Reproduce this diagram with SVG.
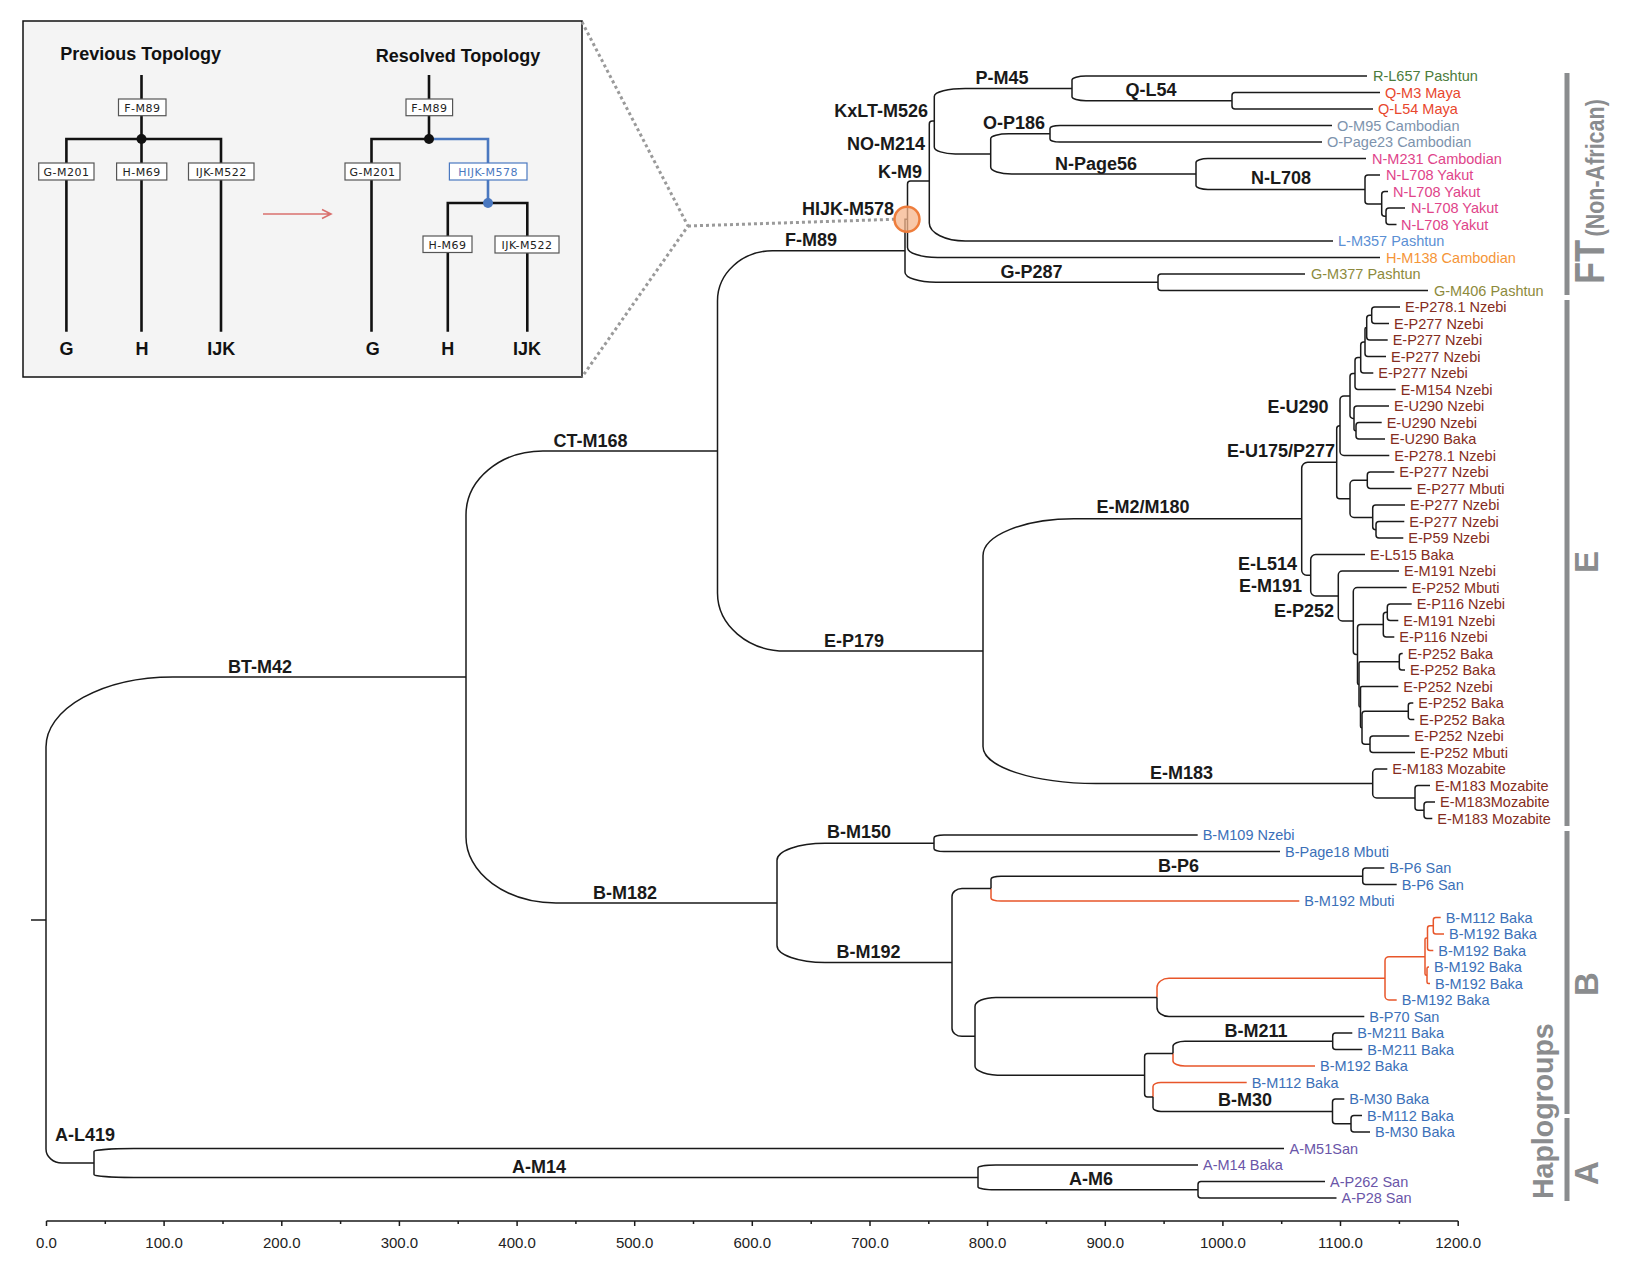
<svg xmlns="http://www.w3.org/2000/svg" width="1635" height="1275" viewBox="0 0 1635 1275">
<style>
.t{fill:none;stroke:#1a1a1a;stroke-width:1.5}
.o{fill:none;stroke:#e8562a;stroke-width:1.5}
.il{fill:none;stroke:#111;stroke-width:2.6}
.ib{fill:none;stroke:#4a78c0;stroke-width:2.6}
.bx{fill:#fff;stroke:#555;stroke-width:1.2}
.bt{font-family:"DejaVu Sans",sans-serif;font-size:11px;letter-spacing:0.5px;text-anchor:middle;fill:#222}
.it{font-family:"Liberation Sans",Arial,sans-serif;font-weight:bold;fill:#111}
.lbl{font-family:"Liberation Sans",Arial,sans-serif;font-weight:bold;font-size:18px;fill:#1a1a1a}
.lf{font-family:"Liberation Sans",Arial,sans-serif;font-size:14.5px}
.ax{font-family:"Liberation Sans",Arial,sans-serif;font-size:15px;fill:#222;text-anchor:middle}
.gr{font-family:"Liberation Sans",Arial,sans-serif;font-weight:bold;fill:#8a8c8e}
.cR{fill:#4b7b3b}.cQ{fill:#e8472d}.cO{fill:#7d93ad}.cN{fill:#e0448a}.cL{fill:#5b8fd4}.cH{fill:#f59538}.cG{fill:#8d8a3c}
.cE{fill:#842c20}.cB{fill:#3b70b8}.cA{fill:#6a55a8}
</style>
<rect width="1635" height="1275" fill="#fff"/>

<g id="inset">
<rect x="23" y="21" width="559" height="356" fill="#f4f4f4" stroke="#111" stroke-width="1.5"/>
<text class="it" x="140.6" y="60" font-size="18" text-anchor="middle">Previous Topology</text>
<text class="it" x="458" y="62" font-size="18" text-anchor="middle">Resolved Topology</text>
<path class="il" d="M141.5,75 V139 M66.4,331.7 V139 H221 V331.7 M141.5,139 V331.7"/>
<circle cx="141.5" cy="139" r="5" fill="#111"/>
<rect class="bx" x="118.5" y="99" width="47.5" height="16.7"/><text class="bt" x="142.3" y="111.5">F-M89</text>
<rect class="bx" x="38.7" y="163" width="55.3" height="17"/><text class="bt" x="66.4" y="175.5">G-M201</text>
<rect class="bx" x="116.6" y="163" width="50.2" height="17"/><text class="bt" x="141.7" y="175.5">H-M69</text>
<rect class="bx" x="188.5" y="163" width="65.5" height="17"/><text class="bt" x="221.3" y="175.5">IJK-M522</text>
<text class="it" x="66.4" y="355" font-size="18" text-anchor="middle">G</text>
<text class="it" x="142" y="355" font-size="18" text-anchor="middle">H</text>
<text class="it" x="221.3" y="355" font-size="18" text-anchor="middle">IJK</text>
<path d="M263,214 H330 M322,209.5 L331,214 L322,218.5" fill="none" stroke="#d9706e" stroke-width="1.6"/>
<path class="il" d="M429,75 V139 M371.5,331.7 V139 H429 M447.8,331.7 V203 H527.3 V331.7"/>
<path class="ib" d="M429,139 H488 V203"/>
<circle cx="429" cy="139" r="5" fill="#111"/>
<circle cx="488" cy="203" r="5" fill="#4a78c0"/>
<rect class="bx" x="406" y="99" width="46.6" height="16.7"/><text class="bt" x="429.3" y="111.5">F-M89</text>
<rect class="bx" x="345" y="163" width="55" height="17"/><text class="bt" x="372.5" y="175.5">G-M201</text>
<rect x="449.4" y="163" width="77.6" height="17" fill="#fff" stroke="#4a78c0" stroke-width="1.2"/><text class="bt" x="488.2" y="175.5" style="fill:#4a78c0">HIJK-M578</text>
<rect class="bx" x="423" y="236" width="49" height="16.5"/><text class="bt" x="447.5" y="248.5">H-M69</text>
<rect class="bx" x="495" y="236" width="64" height="17"/><text class="bt" x="527" y="248.8">IJK-M522</text>
<text class="it" x="372.7" y="355" font-size="18" text-anchor="middle">G</text>
<text class="it" x="447.8" y="355" font-size="18" text-anchor="middle">H</text>
<text class="it" x="526.9" y="355" font-size="18" text-anchor="middle">IJK</text>
</g>

<g id="zoom-guides" fill="none" stroke="#9a9a9a" stroke-width="3" stroke-dasharray="3 3">
<path d="M582,22 L688,226 L582,377"/>
<path d="M688,226 L894,219.3"/>
</g>

<g id="connectors">
<!-- FT -->
<path class="t" d="M1380,92.5 H1235 A3 3 0 0 0 1232,95.5 V106 A3 3 0 0 0 1235,109 H1373"/>
<path class="t" d="M1367,76 H1086 A14 4 0 0 0 1072,80 V96.75 A14 4 0 0 0 1086,100.75 H1232"/>
<path class="t" d="M1332,125.5 H1060 A10 3 0 0 0 1050,128.5 V139 A10 3 0 0 0 1060,142 H1322"/>
<path class="t" d="M1405,208 H1389 A3 3 0 0 0 1386,211 V221.5 A3 3 0 0 0 1389,224.5 H1396.5"/>
<path class="t" d="M1388,191.5 H1384.7 A3 3 0 0 0 1381.7,194.5 V213.25 A3 3 0 0 0 1384.7,216.25 H1386"/>
<path class="t" d="M1380,175 H1368 A3 3 0 0 0 1365,178 V200.9 A3 3 0 0 0 1368,203.9 H1381.7"/>
<path class="t" d="M1366,158.5 H1208 A12 4 0 0 0 1196,162.5 V185.5 A12 4 0 0 0 1208,189.5 H1365"/>
<path class="t" d="M1050,133.75 H1008.7 A18 5 0 0 0 990.7,138.75 V167 A21 7 0 0 0 1011.7,174 H1196"/>
<path class="t" d="M1072,88.4 H965.3 A31 8 0 0 0 934.3,96.4 V146.9 A21 7 0 0 0 955.3,153.9 H990.7"/>
<path class="t" d="M934.3,121.1 H932.3 A3 3 0 0 0 929.3,124.1 V223 A36 18 0 0 0 965.3,241 H1333"/>
<path class="t" d="M929.3,181.05 H910.5 A3 3 0 0 0 907.5,184.05 V247.5 A30 10 0 0 0 937.5,257.5 H1380" stroke-width="2"/>
<path class="t" d="M1305,274 H1161 A3 3 0 0 0 1158,277 V287.5 A3 3 0 0 0 1161,290.5 H1428"/>
<path class="t" d="M907.5,219.3 H905 V272.25 A31 10 0 0 0 936,282.25 H1158" stroke-width="2"/>
<path class="t" d="M905,250.8 H772.5 A55 50 0 0 0 717.5,300.8 V593.1 A68 58 0 0 0 785.5,651.1 H983"/>
<!-- E -->
<path class="t" d="M1400,307 H1374.7 A3 3 0 0 0 1371.7,310 V320.5 A3 3 0 0 0 1374.7,323.5 H1389"/>
<path class="t" d="M1371.7,315.25 H1369.7 A3 3 0 0 0 1366.7,318.25 V337 A3 3 0 0 0 1369.7,340 H1387.7"/>
<path class="t" d="M1366.7,327.6 H1366.5 A1.5 1.5 0 0 0 1365,329.1 V353.5 A3 3 0 0 0 1368,356.5 H1386"/>
<path class="t" d="M1365,342.05 H1363.7 A3 3 0 0 0 1360.7,345.05 V370 A3 3 0 0 0 1363.7,373 H1373.3"/>
<path class="t" d="M1360.7,357.5 H1358 A3 3 0 0 0 1355,360.5 V386.5 A3 3 0 0 0 1358,389.5 H1395.7"/>
<path class="t" d="M1381.7,422.5 H1359 A3 3 0 0 0 1356,425.5 V436 A3 3 0 0 0 1359,439 H1385"/>
<path class="t" d="M1389,406 H1357 A3 3 0 0 0 1354,409 V429.25 A1.5 1.5 0 0 0 1355.5,430.75 H1356"/>
<path class="t" d="M1355,373.5 H1353 A3 3 0 0 0 1350,376.5 V415.4 A3 3 0 0 0 1353,418.4 H1354"/>
<path class="t" d="M1350,395.95 H1344 A4 4 0 0 0 1340,399.95 V451.5 A4 4 0 0 0 1344,455.5 H1389.3"/>
<path class="t" d="M1404.3,521.5 H1379 A3 3 0 0 0 1376,524.5 V535 A3 3 0 0 0 1379,538 H1403.3"/>
<path class="t" d="M1405,505 H1375.7 A3 3 0 0 0 1372.7,508 V526.75 A3 3 0 0 0 1375.7,529.75 H1376"/>
<path class="t" d="M1394.3,472 H1370.3 A3 3 0 0 0 1367.3,475 V485.5 A3 3 0 0 0 1370.3,488.5 H1411.7"/>
<path class="t" d="M1367.3,480.25 H1354 A4 4 0 0 0 1350,484.25 V513.4 A4 4 0 0 0 1354,517.4 H1372.7"/>
<path class="t" d="M1340,425.7 H1339.7 A3 3 0 0 0 1336.7,428.7 V495.8 A3 3 0 0 0 1339.7,498.8 H1350"/>
<path class="t" d="M1336.7,462.25 H1307.7 A6 6 0 0 0 1301.7,468.25 V570.25 A5 5 0 0 0 1306.7,575.25 H1310.7"/>
<path class="t" d="M1411.7,604 H1390.3 A3 3 0 0 0 1387.3,607 V617.5 A3 3 0 0 0 1390.3,620.5 H1398.3"/>
<path class="t" d="M1387.3,612.25 H1386.3 A3 3 0 0 0 1383.3,615.25 V634 A3 3 0 0 0 1386.3,637 H1394.3"/>
<path class="t" d="M1402.7,653.5 H1401.8 A2.5 2.5 0 0 0 1399.3,656 V667.5 A2.5 2.5 0 0 0 1401.8,670 H1405"/>
<path class="t" d="M1413.3,703 H1410.8 A2.5 2.5 0 0 0 1408.3,705.5 V717 A2.5 2.5 0 0 0 1410.8,719.5 H1414.3"/>
<path class="t" d="M1409.3,736 H1373 A3 3 0 0 0 1370,739 V749.5 A3 3 0 0 0 1373,752.5 H1415"/>
<path class="t" d="M1408.3,711.25 H1365 A3 3 0 0 0 1362,714.25 V741.25 A3 3 0 0 0 1365,744.25 H1370"/>
<path class="t" d="M1398.3,686.5 H1362 A1.5 1.5 0 0 0 1360.5,688 V726.25 A1.5 1.5 0 0 0 1362,727.75"/>
<path class="t" d="M1399.3,661.75 H1360.5 A1.5 1.5 0 0 0 1359,663.25 V705.6 A1.5 1.5 0 0 0 1360.5,707.1"/>
<path class="t" d="M1383.3,624.6 H1360.5 A3 3 0 0 0 1357.5,627.6 V682.9 A1.5 1.5 0 0 0 1359,684.4"/>
<path class="t" d="M1406.7,587.5 H1357.3 A4 4 0 0 0 1353.3,591.5 V651.5 A3 3 0 0 0 1356.3,654.5 H1357.5"/>
<path class="t" d="M1399,571 H1342.3 A4 4 0 0 0 1338.3,575 V617 A4 4 0 0 0 1342.3,621 H1353.3"/>
<path class="t" d="M1365,554.5 H1315.7 A5 5 0 0 0 1310.7,559.5 V591 A5 5 0 0 0 1315.7,596 H1338.3"/>
<path class="t" d="M1435,802 H1427 A3 3 0 0 0 1424,805 V815.5 A3 3 0 0 0 1427,818.5 H1432.3"/>
<path class="t" d="M1430,785.5 H1418 A3 3 0 0 0 1415,788.5 V807.25 A3 3 0 0 0 1418,810.25 H1424"/>
<path class="t" d="M1387.3,769 H1376.7 A4 4 0 0 0 1372.7,773 V793.9 A4 4 0 0 0 1376.7,797.9 H1415"/>
<path class="t" d="M1301.7,518.75 H1074 A91 37 0 0 0 983,555.75 V746.45 A113 37 0 0 0 1096,783.45 H1372.7"/>
<!-- B -->
<path class="t" d="M1197.7,835 H944 A10 3 0 0 0 934,838 V848.5 A10 3 0 0 0 944,851.5 H1280"/>
<path class="t" d="M1384.3,868 H1365.7 A3 3 0 0 0 1362.7,871 V881.5 A3 3 0 0 0 1365.7,884.5 H1396.7"/>
<path class="t" d="M1362.7,876.25 H1001 A10 3 0 0 0 991,879.25 V888.6"/>
<path class="o" d="M991,888.6 V898 A10 3 0 0 0 1001,901 H1299.3"/>
<path class="o" d="M1440.7,917.5 H1435.8 A2.5 2.5 0 0 0 1433.3,920 V931.5 A2.5 2.5 0 0 0 1435.8,934 H1444"/>
<path class="o" d="M1433.3,925.75 H1430 A2.5 2.5 0 0 0 1427.5,928.25 V948 A2.5 2.5 0 0 0 1430,950.5 H1433.3"/>
<path class="o" d="M1429,967 H1428.5 A1.5 1.5 0 0 0 1427,968.5 V982 A1.5 1.5 0 0 0 1428.5,983.5 H1430"/>
<path class="o" d="M1427.5,938.1 H1426.5 A1.5 1.5 0 0 0 1425,939.6 V973.75 A1.5 1.5 0 0 0 1426.5,975.25 H1427"/>
<path class="o" d="M1425,956.7 H1389 A4 4 0 0 0 1385,960.7 V996 A4 4 0 0 0 1389,1000 H1396.7"/>
<path class="o" d="M1385,978.35 H1169 A12 9 0 0 0 1157,987.35 V997.4"/>
<path class="t" d="M1157,997.4 V1007.5 A12 9 0 0 0 1169,1016.5 H1364.3"/>
<path class="t" d="M1352.3,1033 H1335.7 A3 3 0 0 0 1332.7,1036 V1046.5 A3 3 0 0 0 1335.7,1049.5 H1362.3"/>
<path class="t" d="M1332.7,1041.25 H1185 A12 5 0 0 0 1173,1046.25 V1053.6"/>
<path class="o" d="M1173,1053.6 V1061 A12 5 0 0 0 1185,1066 H1315"/>
<path class="t" d="M1362,1115.5 H1354 A3 3 0 0 0 1351,1118.5 V1129 A3 3 0 0 0 1354,1132 H1370"/>
<path class="t" d="M1344.3,1099 H1335.5 A3 3 0 0 0 1332.5,1102 V1120.75 A3 3 0 0 0 1335.5,1123.75 H1351"/>
<path class="o" d="M1246.7,1082.5 H1161 A8 4 0 0 0 1153,1086.5 V1096.95"/>
<path class="t" d="M1153,1096.95 V1107.4 A8 4 0 0 0 1161,1111.4 H1332.5"/>
<path class="t" d="M1173,1053.6 H1147.6 A3 3 0 0 0 1144.6,1056.6 V1093.95 A3 3 0 0 0 1147.6,1096.95 H1153"/>
<path class="t" d="M1157,997.4 H996 A21 9 0 0 0 975,1006.4 V1066.3 A28 9 0 0 0 1003,1075.3 H1144.6"/>
<path class="t" d="M991,888.6 H962 A10 8 0 0 0 952,896.6 V1028.35 A10 8 0 0 0 962,1036.35 H975"/>
<path class="t" d="M934,843.25 H825 A48 17 0 0 0 777,860.25 V945.5 A48 17 0 0 0 825,962.5 H952"/>
<path class="t" d="M717.5,450.95 H543 A77 64 0 0 0 466,514.95 V836.9 A90 66 0 0 0 556,902.9 H777"/>
<!-- A -->
<path class="t" d="M1325,1181.5 H1201 A3 3 0 0 0 1198,1184.5 V1195 A3 3 0 0 0 1201,1198 H1336.5"/>
<path class="t" d="M1198,1165 H996 A18 3 0 0 0 978,1168 V1186.75 A18 3 0 0 0 996,1189.75 H1198"/>
<path class="t" d="M1284,1148.5 H134 A40 3 0 0 0 94,1151.5 V1174.4 A40 3 0 0 0 134,1177.4 H978"/>
<path class="t" d="M466,676.9 H173 A127 70 0 0 0 46,746.9 V1149 A16 14 0 0 0 62,1163 H94"/>
<path class="t" d="M31,920 H46"/>
</g>

<g id="hijk-marker">
<circle cx="907" cy="219.3" r="12.5" fill="#f6b58c" fill-opacity="0.75" stroke="#ee7d3c" stroke-width="2.5"/>
</g>

<g id="node-labels" class="lbl">
<text x="1002" y="83.5" text-anchor="middle">P-M45</text>
<text x="1151" y="95.5" text-anchor="middle">Q-L54</text>
<text x="928" y="117" text-anchor="end">KxLT-M526</text>
<text x="1014" y="128.5" text-anchor="middle">O-P186</text>
<text x="925" y="150" text-anchor="end">NO-M214</text>
<text x="1096" y="170" text-anchor="middle">N-Page56</text>
<text x="922" y="177.5" text-anchor="end">K-M9</text>
<text x="1281" y="184" text-anchor="middle">N-L708</text>
<text x="894" y="215" text-anchor="end">HIJK-M578</text>
<text x="811" y="246" text-anchor="middle">F-M89</text>
<text x="1031.5" y="277.5" text-anchor="middle">G-P287</text>
<text x="1328.5" y="413" text-anchor="end">E-U290</text>
<text x="1335" y="457" text-anchor="end">E-U175/P277</text>
<text x="1143" y="513" text-anchor="middle">E-M2/M180</text>
<text x="1297" y="569.5" text-anchor="end">E-L514</text>
<text x="1302" y="591.5" text-anchor="end">E-M191</text>
<text x="1334" y="616.5" text-anchor="end">E-P252</text>
<text x="854" y="646.5" text-anchor="middle">E-P179</text>
<text x="1181.5" y="778.5" text-anchor="middle">E-M183</text>
<text x="590.5" y="446.5" text-anchor="middle">CT-M168</text>
<text x="260" y="672.5" text-anchor="middle">BT-M42</text>
<text x="859" y="838" text-anchor="middle">B-M150</text>
<text x="1178.5" y="871.5" text-anchor="middle">B-P6</text>
<text x="625" y="898.5" text-anchor="middle">B-M182</text>
<text x="868.5" y="957.5" text-anchor="middle">B-M192</text>
<text x="1256" y="1036.5" text-anchor="middle">B-M211</text>
<text x="1245" y="1106" text-anchor="middle">B-M30</text>
<text x="55" y="1140.5">A-L419</text>
<text x="539" y="1172.5" text-anchor="middle">A-M14</text>
<text x="1091" y="1185" text-anchor="middle">A-M6</text>
</g>

<g id="leaves" class="lf">
<text class="cR" x="1373" y="81">R-L657 Pashtun</text>
<text class="cQ" x="1385" y="97.5">Q-M3 Maya</text>
<text class="cQ" x="1378" y="114">Q-L54 Maya</text>
<text class="cO" x="1337" y="130.5">O-M95 Cambodian</text>
<text class="cO" x="1327" y="147">O-Page23 Cambodian</text>
<text class="cN" x="1372" y="163.5">N-M231 Cambodian</text>
<text class="cN" x="1386" y="180">N-L708 Yakut</text>
<text class="cN" x="1393" y="196.5">N-L708 Yakut</text>
<text class="cN" x="1411" y="213">N-L708 Yakut</text>
<text class="cN" x="1401" y="229.5">N-L708 Yakut</text>
<text class="cL" x="1338" y="246">L-M357 Pashtun</text>
<text class="cH" x="1386" y="262.5">H-M138 Cambodian</text>
<text class="cG" x="1311" y="279">G-M377 Pashtun</text>
<text class="cG" x="1434" y="295.5">G-M406 Pashtun</text>
<text class="cE" x="1405" y="312">E-P278.1 Nzebi</text>
<text class="cE" x="1394" y="328.5">E-P277 Nzebi</text>
<text class="cE" x="1392.7" y="345">E-P277 Nzebi</text>
<text class="cE" x="1391" y="361.5">E-P277 Nzebi</text>
<text class="cE" x="1378.3" y="378">E-P277 Nzebi</text>
<text class="cE" x="1400.7" y="394.5">E-M154 Nzebi</text>
<text class="cE" x="1394" y="411">E-U290 Nzebi</text>
<text class="cE" x="1386.7" y="427.5">E-U290 Nzebi</text>
<text class="cE" x="1390" y="444">E-U290 Baka</text>
<text class="cE" x="1394.3" y="460.5">E-P278.1 Nzebi</text>
<text class="cE" x="1399.3" y="477">E-P277 Nzebi</text>
<text class="cE" x="1416.7" y="493.5">E-P277 Mbuti</text>
<text class="cE" x="1410" y="510">E-P277 Nzebi</text>
<text class="cE" x="1409.3" y="526.5">E-P277 Nzebi</text>
<text class="cE" x="1408.3" y="543">E-P59 Nzebi</text>
<text class="cE" x="1370" y="559.5">E-L515 Baka</text>
<text class="cE" x="1404" y="576">E-M191 Nzebi</text>
<text class="cE" x="1411.7" y="592.5">E-P252 Mbuti</text>
<text class="cE" x="1416.7" y="609">E-P116 Nzebi</text>
<text class="cE" x="1403.3" y="625.5">E-M191 Nzebi</text>
<text class="cE" x="1399.3" y="642">E-P116 Nzebi</text>
<text class="cE" x="1407.7" y="658.5">E-P252 Baka</text>
<text class="cE" x="1410" y="675">E-P252 Baka</text>
<text class="cE" x="1403.3" y="691.5">E-P252 Nzebi</text>
<text class="cE" x="1418.3" y="708">E-P252 Baka</text>
<text class="cE" x="1419.3" y="724.5">E-P252 Baka</text>
<text class="cE" x="1414.3" y="741">E-P252 Nzebi</text>
<text class="cE" x="1420" y="757.5">E-P252 Mbuti</text>
<text class="cE" x="1392.3" y="774">E-M183 Mozabite</text>
<text class="cE" x="1435" y="790.5">E-M183 Mozabite</text>
<text class="cE" x="1440" y="807">E-M183Mozabite</text>
<text class="cE" x="1437.3" y="823.5">E-M183 Mozabite</text>
<text class="cB" x="1202.7" y="840">B-M109 Nzebi</text>
<text class="cB" x="1285" y="856.5">B-Page18 Mbuti</text>
<text class="cB" x="1389.3" y="873">B-P6 San</text>
<text class="cB" x="1401.7" y="889.5">B-P6 San</text>
<text class="cB" x="1304.3" y="906">B-M192 Mbuti</text>
<text class="cB" x="1445.7" y="922.5">B-M112 Baka</text>
<text class="cB" x="1449" y="939">B-M192 Baka</text>
<text class="cB" x="1438.3" y="955.5">B-M192 Baka</text>
<text class="cB" x="1434" y="972">B-M192 Baka</text>
<text class="cB" x="1435" y="988.5">B-M192 Baka</text>
<text class="cB" x="1401.7" y="1005">B-M192 Baka</text>
<text class="cB" x="1369.3" y="1021.5">B-P70 San</text>
<text class="cB" x="1357.3" y="1038">B-M211 Baka</text>
<text class="cB" x="1367.3" y="1054.5">B-M211 Baka</text>
<text class="cB" x="1320" y="1071">B-M192 Baka</text>
<text class="cB" x="1251.7" y="1087.5">B-M112 Baka</text>
<text class="cB" x="1349.3" y="1104">B-M30 Baka</text>
<text class="cB" x="1367" y="1120.5">B-M112 Baka</text>
<text class="cB" x="1375" y="1137">B-M30 Baka</text>
<text class="cA" x="1289.5" y="1153.5">A-M51San</text>
<text class="cA" x="1203" y="1170">A-M14 Baka</text>
<text class="cA" x="1330" y="1186.5">A-P262 San</text>
<text class="cA" x="1341.5" y="1203">A-P28 San</text>
</g>

<g id="haplogroup-bars" fill="#8a8c8e">
<rect x="1564.5" y="73" width="5" height="222"/>
<rect x="1564.5" y="300" width="5" height="526"/>
<rect x="1564.5" y="831" width="5" height="283"/>
<rect x="1564.5" y="1118" width="5" height="83"/>
<text class="gr" transform="translate(1604,284) rotate(-90) scale(0.86,1)" font-size="42">FT<tspan font-size="25" dx="4">(Non-African)</tspan></text>
<text class="gr" transform="translate(1598,562) rotate(-90)" font-size="33" text-anchor="middle">E</text>
<text class="gr" transform="translate(1598,984) rotate(-90)" font-size="33" text-anchor="middle">B</text>
<text class="gr" transform="translate(1598,1173) rotate(-90)" font-size="33" text-anchor="middle">A</text>
<text class="gr" transform="translate(1553,1199) rotate(-90) scale(0.95,1)" font-size="30">Haplogroups</text>
</g>

<g id="axis">
<path class="t" d="M46.5,1221 H1458.2 M46.5,1221 v5 M164.1,1221 v5 M281.8,1221 v5 M399.4,1221 v5 M517.1,1221 v5 M634.7,1221 v5 M752.3,1221 v5 M870,1221 v5 M987.6,1221 v5 M1105.3,1221 v5 M1222.9,1221 v5 M1340.5,1221 v5 M1458.2,1221 v5 M105.3,1221 v3 M223,1221 v3 M340.6,1221 v3 M458.2,1221 v3 M575.9,1221 v3 M693.5,1221 v3 M811.2,1221 v3 M928.8,1221 v3 M1046.4,1221 v3 M1164.1,1221 v3 M1281.7,1221 v3 M1399.4,1221 v3"/>
<text class="ax" x="46.5" y="1248">0.0</text>
<text class="ax" x="164.1" y="1248">100.0</text>
<text class="ax" x="281.8" y="1248">200.0</text>
<text class="ax" x="399.4" y="1248">300.0</text>
<text class="ax" x="517.1" y="1248">400.0</text>
<text class="ax" x="634.7" y="1248">500.0</text>
<text class="ax" x="752.3" y="1248">600.0</text>
<text class="ax" x="870" y="1248">700.0</text>
<text class="ax" x="987.6" y="1248">800.0</text>
<text class="ax" x="1105.3" y="1248">900.0</text>
<text class="ax" x="1222.9" y="1248">1000.0</text>
<text class="ax" x="1340.5" y="1248">1100.0</text>
<text class="ax" x="1458.2" y="1248">1200.0</text>
</g>
</svg>
